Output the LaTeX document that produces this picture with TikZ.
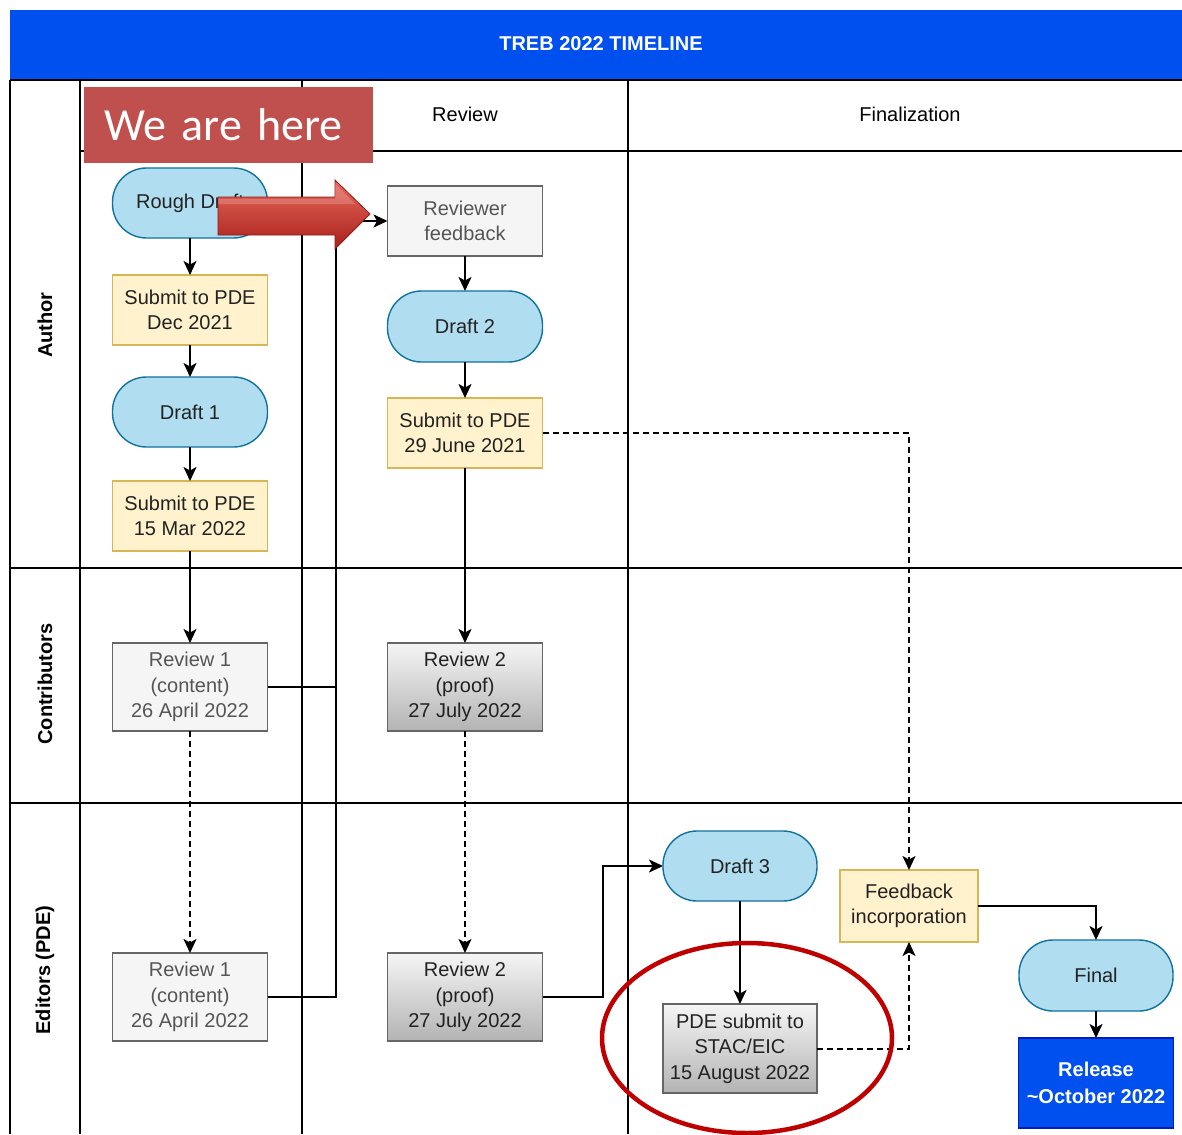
\documentclass[tikz,border=0pt]{standalone}
\usepackage{fontspec}
\setmainfont{Liberation Sans}
\newfontfamily\calib{Carlito}
\usetikzlibrary{arrows.meta,shapes.geometric,calc}
\definecolor{hdrblue}{HTML}{0050EF}
\definecolor{hdrline}{HTML}{001DBC}
\definecolor{bluefill}{HTML}{B1DDF0}
\definecolor{bluedraw}{HTML}{10739E}
\definecolor{yelfill}{HTML}{FFF2CC}
\definecolor{yeldraw}{HTML}{D6B656}
\definecolor{grayfill}{HTML}{F5F5F5}
\definecolor{graydraw}{HTML}{666666}
\definecolor{grayend}{HTML}{B3B3B3}
\definecolor{txtdark}{HTML}{222222}
\definecolor{txtgray}{HTML}{555555}
\definecolor{herered}{HTML}{C0504D}
\definecolor{ellred}{HTML}{BF0000}
\definecolor{arrowtop}{HTML}{E8675A}
\definecolor{arrowbot}{HTML}{A8211B}
\definecolor{arrowline}{HTML}{8E1C16}
\begin{document}
\begin{tikzpicture}[x=1pt,y=-1pt,
  every node/.style={inner sep=0pt, outer sep=0pt, align=center, font=\fontsize{20}{25.5}\selectfont},
  basebox/.style={draw, line width=1.4pt, minimum width=155pt},
  stadium/.style={basebox, rounded corners=34pt, fill=bluefill, draw=bluedraw, minimum height=70pt, text=txtdark},
  yelbox/.style={basebox, fill=yelfill, draw=yeldraw, minimum height=70pt, text=txtdark},
  graybox/.style={basebox, fill=grayfill, draw=graydraw, minimum height=70pt, text=txtgray},
  gradbox/.style={basebox, top color=grayfill, bottom color=grayend, draw=graydraw, minimum height=88pt, text=txtdark},
  grid/.style={line width=2pt, draw=black},
  arr/.style={line width=2pt, -{Stealth[length=14pt,width=13pt,inset=3.5pt]}},
  dasharr/.style={arr, dash pattern=on 6pt off 4pt},
  plain/.style={line width=2pt},
  lanelabel/.style={rotate=90, font=\bfseries\fontsize{20}{24}\selectfont}
]
\useasboundingbox (0,0) rectangle (1182,1134);
\fill[white] (0,0) rectangle (1182,1134);

% header
\fill[hdrblue] (10,10) rectangle (1182,80);
\node[text=white, font=\bfseries\fontsize{20}{24}\selectfont] (title) at (601,44) {TREB 2022 TIMELINE};

% grid
\draw[grid] (10,80) -- (1182,80);
\draw[grid] (10,80) -- (10,1134);
\draw[grid] (80,80) -- (80,1134);
\draw[grid] (302,80) -- (302,1134);
\draw[grid] (628,80) -- (628,1134);
\draw[grid] (80,151) -- (1182,151);
\draw[grid] (10,568) -- (1182,568);
\draw[grid] (10,803) -- (1182,803);

% headers
\node (hrev) at (465,114) {Review};
\node (hfin) at (910,114) {Finalization};
\node[lanelabel] (lauthor) at (45,325) {Author};
\node[lanelabel] (lcontrib) at (45,684) {Contributors};
\node[lanelabel] (leditors) at (45,970) {Editors (PDE)};

% nodes column 1
\node[stadium] (rough) at (190,203) {Rough Draft};
\node[yelbox] (sub1) at (190,310) {Submit to PDE\\Dec 2021};
\node[stadium] (draft1) at (190,412) {Draft 1};
\node[yelbox] (sub2) at (190,516) {Submit to PDE\\15 Mar 2022};
\node[graybox, minimum height=88pt] (rev1c) at (190,687) {Review 1\\(content)\\26 April 2022};
\node[graybox, minimum height=88pt] (rev1e) at (190,997) {Review 1\\(content)\\26 April 2022};

% column 2
\node[graybox] (revfb) at (465,221) {Reviewer\\feedback};
\node[stadium, minimum height=71pt] (draft2) at (465,326.5) {Draft 2};
\node[yelbox] (sub3) at (465,433) {Submit to PDE\\29 June 2021};
\node[gradbox] (rev2c) at (465,687) {Review 2\\(proof)\\27 July 2022};
\node[gradbox] (rev2e) at (465,997) {Review 2\\(proof)\\27 July 2022};

% column 3
\node[stadium, minimum width=154pt] (draft3) at (740,866) {Draft 3};
\node[gradbox, minimum width=154pt, minimum height=89pt] (pdesub) at (740,1048.5) {PDE submit to\\STAC/EIC\\15 August 2022};
\node[yelbox, minimum width=138pt, minimum height=72pt] (feedinc) at (909,906) {Feedback\\incorporation};
\node[stadium, minimum width=154pt, minimum height=71pt] (final) at (1096,975.5) {Final};
\node[basebox, fill=hdrblue, draw=hdrline, minimum height=90pt, text=white, font=\bfseries\fontsize{20}{27}\selectfont] (release) at (1096,1083) {Release\\\textasciitilde October 2022};

% connectors
\coordinate (bus) at (336,221);
\coordinate (bus2) at (603,866);
\draw[arr] (rough) -- (sub1);
\draw[arr] (sub1) -- (draft1);
\draw[arr] (draft1) -- (sub2);
\draw[arr] (sub2) -- (rev1c);
\draw[dasharr] (rev1c) -- (rev1e);
\draw[plain] (rev1c.east) -- (rev1c.east -| bus);
\draw[arr] (rev1e.east) -| (bus) -- (revfb.west);
\draw[arr] (revfb) -- (draft2);
\draw[arr] (draft2) -- (sub3);
\draw[arr] (sub3) -- (rev2c);
\draw[dasharr] (rev2c) -- (rev2e);
\draw[dasharr] (sub3.east) -| (feedinc.north);
\draw[arr] (rev2e.east) -| (bus2) -- (draft3.west);
\draw[arr] (draft3) -- (pdesub);
\draw[dasharr] (pdesub.east) -| (feedinc.south);
\draw[arr] (feedinc.east) -| (final.north);
\draw[arr] (final) -- (release);

% We are here
\node[fill=herered, text width=289pt, minimum height=76pt, align=left, text=white, font=\calib\fontsize{46}{50}\selectfont, anchor=north west] (here) at (84,87) {\hspace*{20pt}We are here};

% red block arrow
\shade[top color=arrowtop, bottom color=arrowbot, draw=arrowline, line width=0.8pt]
  (218,197) -- (335,197) -- (335,180) -- (370,214) -- (335,249) -- (335,235) -- (218,235) -- cycle;
\fill[white, opacity=0.18] (218,199) -- (335,199) -- (335,184) -- (355,204) -- (218,204) -- cycle;

% red ellipse
\draw[ellred, line width=4.5pt] (747,1038) ellipse [x radius=145pt, y radius=95pt];
\end{tikzpicture}
\end{document}
